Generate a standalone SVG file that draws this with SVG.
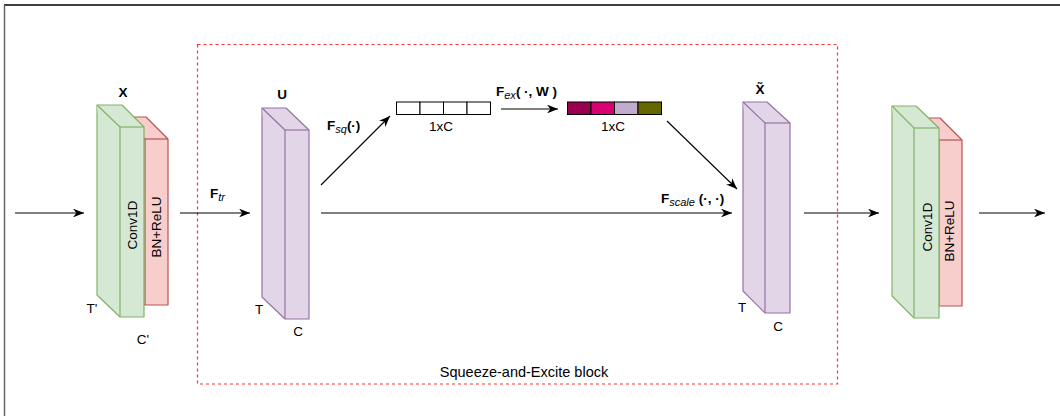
<svg xmlns="http://www.w3.org/2000/svg" width="1060" height="416" viewBox="0 0 1060 416">
<style>
text{font-family:"Liberation Sans",Arial,sans-serif;font-size:13.5px;fill:#000;}
.b{font-weight:bold;}
.sub{font-style:italic;font-weight:normal;font-size:11px;}
.mid{text-anchor:middle;}
.rot{text-anchor:middle;dominant-baseline:central;}
.green{fill:#d5e8d4;stroke:#82b366;stroke-width:1.2;stroke-linejoin:round;}
.red{fill:#f8cecc;stroke:#b85450;stroke-width:1.2;stroke-linejoin:round;}
.purple{fill:#e1d5e7;stroke:#9673a6;stroke-width:1.2;stroke-linejoin:round;}
.edge{fill:none;stroke:#000;stroke-width:1.1;}
.cell{stroke:#000;stroke-width:1;}
</style>
<defs>
<marker id="arr" viewBox="0 0 10 8" refX="10" refY="4" markerWidth="11" markerHeight="8.8" markerUnits="userSpaceOnUse" orient="auto">
<path d="M0,0 L10,4 L0,8 L3,4 Z" fill="#000"/>
</marker>
</defs>
<rect width="1060" height="416" fill="#fff"/>
<line x1="4" y1="5" x2="1060" y2="5" stroke="#000" stroke-width="1.5"/>
<line x1="4.5" y1="5" x2="4.5" y2="416" stroke="#666" stroke-width="1.5"/>

<g id="se-block">
<rect x="197.5" y="44.5" width="640" height="339.5" fill="none" stroke="#ff3333" stroke-width="1.2" stroke-dasharray="3 3"/>
<text class="mid" x="524" y="377" style="font-size:14.5px">Squeeze-and-Excite block</text>
</g>

<g id="conv-left">
<polygon class="red" points="123,117 146,117 168,139 168,305 145,305 123,283"/>
<polyline class="red" points="123,117 145,139 145,305" fill="none"/>
<line class="red" x1="145" y1="139" x2="168" y2="139"/>
<polygon class="green" points="97,105 122,105 144,127 144,317 120,317 97,295"/>
<polyline class="green" points="97,105 120,127 120,317" fill="none"/>
<line class="green" x1="120" y1="127" x2="144" y2="127"/>
<text class="b mid" x="123" y="97">X</text>
<text class="rot" transform="translate(132,225) rotate(-90)">Conv1D</text>
<text class="rot" transform="translate(156,227) rotate(-90)">BN+ReLU</text>
<text class="mid" x="92" y="313">T'</text>
<text class="mid" x="143" y="344">C'</text>
</g>

<g id="U">
<polygon class="purple" points="262,108 286,108 309,130 309,319 285,319 262,297"/>
<polyline class="purple" points="262,108 285,130 285,319" fill="none"/>
<line class="purple" x1="285" y1="130" x2="309" y2="130"/>
<text class="b mid" x="282" y="99">U</text>
<text class="mid" x="259" y="314">T</text>
<text class="mid" x="298" y="336">C</text>
</g>

<g id="squeeze-vector">
<rect class="cell" x="396.5" y="102" width="23.5" height="12.5" fill="#fff"/>
<rect class="cell" x="420" y="102" width="23.5" height="12.5" fill="#fff"/>
<rect class="cell" x="443.5" y="102" width="23.5" height="12.5" fill="#fff"/>
<rect class="cell" x="467" y="102" width="23.5" height="12.5" fill="#fff"/>
<text class="mid" x="441" y="131">1xC</text>
</g>

<g id="excite-vector">
<rect class="cell" x="567.5" y="102" width="23.5" height="12.5" fill="#99004d"/>
<rect class="cell" x="591" y="102" width="23.5" height="12.5" fill="#d80073"/>
<rect class="cell" x="614.5" y="102" width="23.5" height="12.5" fill="#c3abd0"/>
<rect class="cell" x="638" y="102" width="23.5" height="12.5" fill="#666600"/>
<text class="mid" x="613" y="131">1xC</text>
</g>

<g id="X-tilde">
<polygon class="purple" points="743,102 767,102 790,123 790,313 765,313 743,291"/>
<polyline class="purple" points="743,102 765,123 765,313" fill="none"/>
<line class="purple" x1="765" y1="123" x2="790" y2="123"/>
<text class="b mid" x="760" y="94">X&#771;</text>
<text class="mid" x="742" y="312">T</text>
<text class="mid" x="778" y="331">C</text>
</g>

<g id="conv-right">
<polygon class="red" points="917,118 940,118 962,140 962,306 939,306 917,284"/>
<polyline class="red" points="917,118 939,140 939,306" fill="none"/>
<line class="red" x1="939" y1="140" x2="962" y2="140"/>
<polygon class="green" points="892,106 916,106 939,128 939,318 914,318 892,296"/>
<polyline class="green" points="892,106 914,128 914,318" fill="none"/>
<line class="green" x1="914" y1="128" x2="939" y2="128"/>
<text class="rot" transform="translate(927,227) rotate(-90)">Conv1D</text>
<text class="rot" transform="translate(949,231) rotate(-90)">BN+ReLU</text>
</g>

<g id="connectors">
<line class="edge" x1="15" y1="213" x2="84" y2="213" marker-end="url(#arr)"/>
<line class="edge" x1="180" y1="213" x2="250" y2="213" marker-end="url(#arr)"/>
<line class="edge" x1="321" y1="185" x2="390" y2="116" marker-end="url(#arr)"/>
<line class="edge" x1="321" y1="213" x2="732" y2="213" marker-end="url(#arr)"/>
<line class="edge" x1="501" y1="109" x2="558" y2="109" marker-end="url(#arr)"/>
<line class="edge" x1="667" y1="121" x2="737" y2="189" marker-end="url(#arr)"/>
<line class="edge" x1="804" y1="213" x2="879" y2="213" marker-end="url(#arr)"/>
<line class="edge" x1="979" y1="213" x2="1045" y2="213" marker-end="url(#arr)"/>
<text class="b" x="210" y="198">F<tspan class="sub" dy="3">tr</tspan></text>
<text class="b" x="327" y="130">F<tspan class="sub" dy="3">sq</tspan><tspan dy="-3">(·)</tspan></text>
<text class="b" x="496" y="96">F<tspan class="sub" dy="3">ex</tspan><tspan dy="-3">( ·, W )</tspan></text>
<text class="b" x="661" y="203">F<tspan class="sub" dy="3">scale</tspan><tspan dy="-3"> (·, ·)</tspan></text>
</g>
</svg>
